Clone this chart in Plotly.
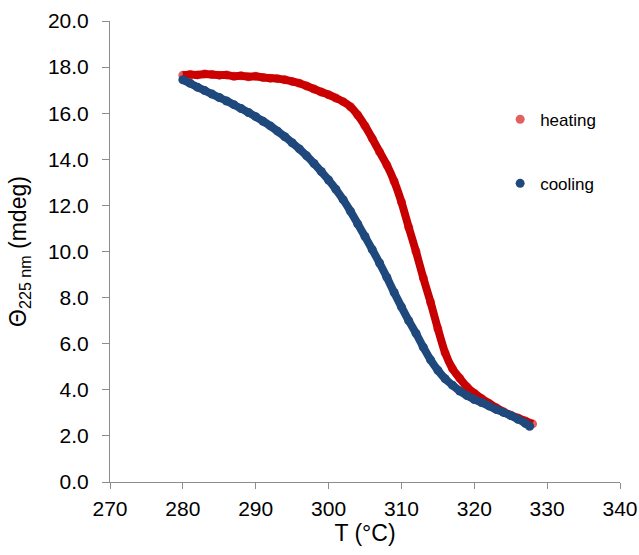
import plotly.graph_objects as go

# Heating run: temperature (°C) and ellipticity at 225 nm (mdeg)
heat_T = [280, 281, 282, 283, 284, 285, 286, 287, 288, 289, 290, 291, 292, 293, 294,
          295, 296, 297, 298, 299, 300, 301, 302, 303, 304, 305, 306, 307, 308, 309,
          310, 311, 312, 313, 314, 315, 316, 317, 318, 319, 320, 321, 322, 323, 324,
          325, 326, 327, 328]
heat_theta = [17.65, 17.68, 17.66, 17.70, 17.68, 17.65, 17.66, 17.60, 17.62, 17.58,
              17.60, 17.55, 17.52, 17.50, 17.45, 17.38, 17.30, 17.18, 17.05, 16.92,
              16.80, 16.66, 16.50, 16.28, 15.92, 15.45, 14.90, 14.32, 13.75, 13.05,
              12.15, 11.05, 10.00, 8.85, 7.80, 6.65, 5.60, 4.92, 4.50, 4.12,
              3.85, 3.62, 3.42, 3.22, 3.05, 2.90, 2.78, 2.65, 2.52]

# Cooling run
cool_T = [280, 281, 282, 283, 284, 285, 286, 287, 288, 289, 290, 291, 292, 293, 294,
          295, 296, 297, 298, 299, 300, 301, 302, 303, 304, 305, 306, 307, 308, 309,
          310, 311, 312, 313, 314, 315, 316, 317, 318, 319, 320, 321, 322, 323, 324,
          325, 326, 327, 327.6]
cool_theta = [17.45, 17.30, 17.13, 16.98, 16.83, 16.68, 16.53, 16.37, 16.20, 16.03,
              15.85, 15.65, 15.45, 15.22, 14.98, 14.72, 14.45, 14.15, 13.82, 13.47,
              13.10, 12.70, 12.25, 11.75, 11.20, 10.65, 10.08, 9.50, 8.88, 8.22,
              7.60, 7.00, 6.45, 5.85, 5.30, 4.85, 4.48, 4.20, 3.95, 3.75,
              3.58, 3.45, 3.30, 3.15, 3.02, 2.88, 2.72, 2.55, 2.42]

x_ticks = [270, 280, 290, 300, 310, 320, 330, 340]
y_ticks = [0, 2, 4, 6, 8, 10, 12, 14, 16, 18, 20]

RED_LINE = "rgb(198,0,0)"
RED_MARK = "rgba(206,0,0,0.62)"
BLUE = "rgb(31,73,125)"
FONT = "Liberation Sans, Arial, sans-serif"

fig = go.Figure()
fig.add_trace(go.Scatter(x=heat_T, y=heat_theta, mode="lines",
                         line=dict(color=RED_LINE, width=8, shape="spline", smoothing=0.6),
                         showlegend=False, hoverinfo="skip"))
fig.add_trace(go.Scatter(x=heat_T, y=heat_theta, mode="markers", name="heating",
                         marker=dict(color=RED_MARK, size=9), legendgroup="h"))
fig.add_trace(go.Scatter(x=cool_T, y=cool_theta, mode="lines",
                         line=dict(color=BLUE, width=8, shape="spline", smoothing=0.6),
                         showlegend=False, hoverinfo="skip"))
fig.add_trace(go.Scatter(x=cool_T, y=cool_theta, mode="markers", name="cooling",
                         marker=dict(color=BLUE, size=9), legendgroup="c"))

axis_common = dict(showgrid=False, zeroline=False, showline=True, automargin=False,
                   linecolor="#8c8c8c", linewidth=1, ticks="outside",
                   tickcolor="#8c8c8c", tickwidth=1,
                   tickfont=dict(family=FONT, size=21, color="#000"))

fig.update_layout(
    width=639, height=555,
    margin=dict(l=110, r=19, t=21, b=73),
    paper_bgcolor="white", plot_bgcolor="white",
    font=dict(family=FONT, color="#000"),
    xaxis=dict(range=[270, 340], tickvals=x_ticks, ticklen=6, ticklabelstandoff=2,
               title=dict(text="T (°C)", font=dict(family=FONT, size=23), standoff=2),
               **axis_common),
    yaxis=dict(range=[0, 20], tickvals=y_ticks, tickformat=".1f", ticklen=7,
               ticklabelstandoff=9,
               title=dict(text="Θ<sub>225 nm</sub> (mdeg)",
                          font=dict(family=FONT, size=23), standoff=14),
               **axis_common),
    legend=dict(x=0.765, y=0.825, xanchor="left", yanchor="top",
                traceorder="grouped", tracegroupgap=39,
                font=dict(family=FONT, size=17), bgcolor="rgba(0,0,0,0)",
                itemsizing="trace"),
)

fig.write_html(
    "out.html",
    config={"displayModeBar": False},
    post_script="document.body.style.margin='0';"
                "document.documentElement.style.overflow='hidden';",
)
